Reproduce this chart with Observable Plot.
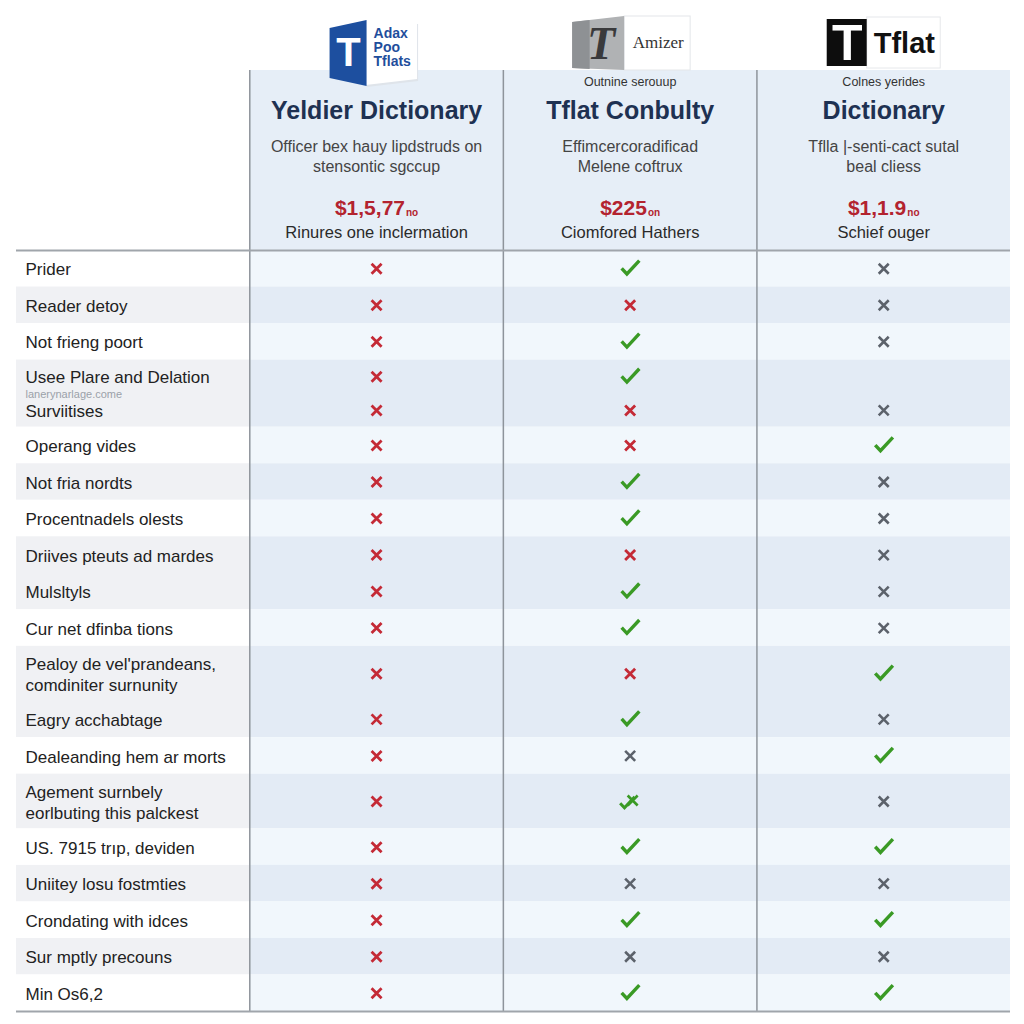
<!DOCTYPE html>
<html><head><meta charset="utf-8">
<script src="https://cdn.jsdelivr.net/npm/d3@7"></script>
<script src="https://cdn.jsdelivr.net/npm/@observablehq/plot@0.6"></script>
<style>html,body{margin:0;padding:0;background:#fff}#chart svg{display:block}</style>
</head><body><div id="chart"></div>
<script>
// ---------------- DATA ----------------
const products = ["Yeldier Dictionary", "Tflat Conbulty", "Dictionary"];
const productTags = ["", "Outnine serouup", "Colnes yerides"];
const productDescs = [
  "Officer bex hauy lipdstruds on\nstensontic sgccup",
  "Effimcercoradificad\nMelene coftrux",
  "Tflla |-senti-cact sutal\nbeal cliess"
];
const prices = ["$1,5,77", "$225", "$1,1.9"];
const priceUnits = ["no", "on", "no"];
const priceNotes = ["Rinures one inclermation", "Ciomfored Hathers", "Schief ouger"];
const logoWords = ["Adax\nPoo\nTflats", "Amizer", "Tflat"];
const watermark = "lanerynarlage.come";

const features = [
  "Prider", "Reader detoy", "Not frieng poort", "Usee Plare and Delation", "Surviitises",
  "Operang vides", "Not fria nordts", "Procentnadels olests", "Driives pteuts ad mardes", "Mulsltyls",
  "Cur net dfinba tions", "Pealoy de vel'prandeans,\ncomdiniter surnunity", "Eagry acchabtage",
  "Dealeanding hem ar morts", "Agement surnbely\neorlbuting this palckest", "US. 7915 trıp, deviden",
  "Uniitey losu fostmties", "Crondating with idces", "Sur mptly precouns", "Min Os6,2"
];
// rows sharing a band number share one shaded / plain stripe
const featureBands = [0,1,2,3,3,4,5,6,7,7,8,9,9,10,11,12,13,14,15,16];
// the two features that sit together in one cell of the reference
const pairedFeatures = ["Usee Plare and Delation", "Surviitises"];
// yes = green tick, no = red cross, na = grey cross, mixed = tick+cross, "" = empty
const yeldier = ["no","no","no","no","no","no","no","no","no","no","no","no","no","no","no","no","no","no","no","no"];
const tflatConbulty = ["yes","no","yes","yes","no","no","yes","yes","no","yes","yes","no","yes","na","mixed","yes","na","yes","na","yes"];
const dictionary = ["na","na","na","","na","yes","na","na","na","na","na","yes","na","yes","na","yes","na","yes","na","yes"];

// ---------------- LAYOUT ----------------
const W = 1024, H = 1024, mL = 16, mR = 14, mB = 13, BODY_TOP = 250;
const FONT = "Liberation Sans, Arial, Helvetica, sans-serif";
const leftW = 0.92;

const rows = features.map((label, i) => ({label, band: featureBands[i], lines: label.split("\n").length}));
let acc = 0;
rows.forEach(r => {
  r.h = pairedFeatures.includes(r.label) ? 0.92 : 1 + 0.5 * (r.lines - 1);
  r.y0 = acc; acc += r.h; r.y1 = acc; r.yc = (r.y0 + r.y1) / 2;
});
const total = acc;
const pxY = (H - mB - BODY_TOP) / total;
const pxX = (W - mL - mR) / (3 + leftW);
const yTop = -BODY_TOP / pxY;
const hx = (c, off) => c + 0.5 + off / pxX;
const hy = (p) => (p - BODY_TOP) / pxY;

const bands = d3.groups(rows, r => r.band).map(([b, rs]) => ({
  band: b, y1: d3.min(rs, r => r.y0), y2: d3.max(rs, r => r.y1), shaded: b % 2 === 1
}));

const statusCols = [yeldier, tflatConbulty, dictionary];
const cells = statusCols.flatMap((arr, c) => arr.map((s, i) => ({x: c + 0.5, y: rows[i].yc, s})));

const checkSymbol = {draw(ctx, size) { const r = Math.sqrt(size / Math.PI);
  ctx.moveTo(-r, -0.05 * r); ctx.lineTo(-0.38 * r, 0.62 * r); ctx.lineTo(1.08 * r, -0.95 * r); }};
const crossSymbol = {draw(ctx, size) { const r = Math.sqrt(size / Math.PI);
  ctx.moveTo(-r, -r); ctx.lineTo(r, r); ctx.moveTo(-r, r); ctx.lineTo(r, -r); }};

// price + small suffix measured so the pair is centred
const mctx = document.createElement("canvas").getContext("2d");
const priceParts = products.map((p, i) => {
  mctx.font = "bold 21px " + FONT; const w1 = mctx.measureText(prices[i]).width;
  mctx.font = "bold 10px " + FONT; const w2 = mctx.measureText(priceUnits[i]).width;
  const tot = w1 + 1 + w2;
  return {i, x1: hx(i, -tot / 2), x2: hx(i, -tot / 2 + w1 + 1)};
});

const header = products.map((p, i) => ({i, x: i + 0.5, title: p, tag: productTags[i], desc: productDescs[i], note: priceNotes[i]}));

const trap = (c, a, b) => [
  {x: hx(c, a[0]), y1: hy(a[1]), y2: hy(a[2])},
  {x: hx(c, b[0]), y1: hy(b[1]), y2: hy(b[2])}
];
const pairEnd = rows[features.indexOf(pairedFeatures[0])].y1;

const chart = Plot.plot({
  width: W, height: H,
  marginLeft: mL, marginRight: mR, marginTop: 0, marginBottom: mB,
  x: {domain: [-leftW, 3], axis: null},
  y: {domain: [yTop, total], reverse: true, axis: null},
  style: {fontFamily: FONT, background: "#ffffff", overflow: "visible"},
  marks: [
    // header panel
    Plot.rect([0], {x1: 0, x2: 3, y1: hy(70), y2: 0, fill: "#e6eef7"}),
    // body stripes
    Plot.rect(bands, {x1: -leftW, x2: 0, y1: "y1", y2: "y2", fill: d => d.shaded ? "#f0f1f4" : "#ffffff"}),
    Plot.rect(bands, {x1: 0, x2: 3, y1: "y1", y2: "y2", fill: d => d.shaded ? "#e3ebf5" : "#f1f7fc"}),
    // grid lines
    Plot.ruleX([0, 1, 2], {y1: hy(70), y2: total, stroke: "#8e949b", strokeWidth: 1.5}),
    Plot.ruleY([0, total], {x1: -leftW, x2: 3, stroke: "#a0a5ab", strokeWidth: 2}),

    // ----- logos -----
    // product 1
    Plot.areaY(trap(0, [-9.5, 21, 87], [42, 24, 81]), {x: "x", y1: "y1", y2: "y2", fill: "#dfe4ea"}),
    Plot.areaY(trap(0, [-10.5, 19, 85], [41, 23, 79]), {x: "x", y1: "y1", y2: "y2", fill: "#ffffff"}),
    Plot.areaY(trap(0, [-46.5, 28, 78], [-9.5, 20, 86]), {x: "x", y1: "y1", y2: "y2", fill: "#1d4f9f"}),
    Plot.text(["T"], {x: hx(0, -28), y: hy(53), text: d => d, fill: "#ffffff", fontSize: 40, fontWeight: "bold"}),
    Plot.text([logoWords[0]], {x: hx(0, -3), y: hy(47), text: d => d, textAnchor: "start", fill: "#1f4e9c", fontSize: 14, fontWeight: 600, lineHeight: 1.0}),
    // product 2
    Plot.rect([0], {x1: hx(1, -5.5), x2: hx(1, 60.5), y1: hy(16), y2: hy(70), fill: "#ffffff", stroke: "#e4e6e9"}),
    Plot.areaY(trap(1, [-57.5, 22, 68], [-5.5, 16, 70]), {x: "x", y1: "y1", y2: "y2", fill: "#b0b2b4"}),
    Plot.areaY(trap(1, [-57.5, 22, 68], [-40, 20, 69]), {x: "x", y1: "y1", y2: "y2", fill: "#8e9194"}),
    Plot.text(["T"], {x: hx(1, -29), y: hy(44), text: d => d, fill: "#3a3a3c", fontSize: 46, fontWeight: "bold", fontStyle: "italic", fontFamily: "Liberation Serif, serif"}),
    Plot.text([logoWords[1]], {x: hx(1, 28), y: hy(42), text: d => d, fill: "#333333", fontSize: 17, fontFamily: "Liberation Serif, serif"}),
    // product 3
    Plot.rect([0], {x1: hx(2, -16.5), x2: hx(2, 57), y1: hy(17), y2: hy(68), fill: "#ffffff", stroke: "#e6e8eb"}),
    Plot.rect([0], {x1: hx(2, -56.5), x2: hx(2, -16.5), y1: hy(19), y2: hy(66), fill: "#0d0d0d"}),
    Plot.text(["T"], {x: hx(2, -36.5), y: hy(43), text: d => d, fill: "#ffffff", fontSize: 50, fontWeight: "bold"}),
    Plot.text([logoWords[2]], {x: hx(2, -10), y: hy(43), text: d => d, textAnchor: "start", fill: "#111111", fontSize: 29, fontWeight: "bold"}),

    // ----- header texts -----
    Plot.text(header, {x: "x", y: hy(81), text: "tag", fontSize: 12.5, fill: "#333"}),
    Plot.text(header, {x: "x", y: hy(110), text: "title", fontSize: 25, fontWeight: "bold", fill: "#1e3152"}),
    Plot.text(header, {x: "x", y: hy(155), text: "desc", fontSize: 16, fill: "#444", lineHeight: 1.25}),
    Plot.text(priceParts, {x: "x1", y: hy(208), text: d => prices[d.i], textAnchor: "start", fontSize: 21, fontWeight: "bold", fill: "#b3232f"}),
    Plot.text(priceParts, {x: "x2", y: hy(212), text: d => priceUnits[d.i], textAnchor: "start", fontSize: 10, fontWeight: "bold", fill: "#b3232f"}),
    Plot.text(header, {x: "x", y: hy(232), text: "note", fontSize: 16.5, fill: "#2a2a2a"}),

    // ----- feature labels -----
    Plot.text(rows, {x: -leftW, y: "yc", text: "label", textAnchor: "start", dx: 9, fontSize: 17, fill: "#222", lineHeight: 1.22}),
    Plot.text([watermark], {x: -leftW, y: pairEnd, text: d => d, textAnchor: "start", dx: 9, dy: 1, fontSize: 11, fill: "#9ba1a9"}),

    // ----- status marks -----
    Plot.dot(cells.filter(d => d.s === "no"), {x: "x", y: "y", symbol: crossSymbol, r: 5, fill: "none", stroke: "#c42a36", strokeWidth: 2.8}),
    Plot.dot(cells.filter(d => d.s === "na"), {x: "x", y: "y", symbol: crossSymbol, r: 5, fill: "none", stroke: "#5c626b", strokeWidth: 2.6}),
    Plot.dot(cells.filter(d => d.s === "yes"), {x: "x", y: "y", symbol: checkSymbol, r: 8.5, fill: "none", stroke: "#3a9a25", strokeWidth: 3.4}),
    Plot.dot(cells.filter(d => d.s === "mixed"), {x: "x", y: "y", dx: -3, dy: 2, symbol: checkSymbol, r: 7, fill: "none", stroke: "#3a9a25", strokeWidth: 3}),
    Plot.dot(cells.filter(d => d.s === "mixed"), {x: "x", y: "y", dx: 2.5, dy: -1, symbol: crossSymbol, r: 5, fill: "none", stroke: "#3a9a25", strokeWidth: 2.6})
  ]
});
document.getElementById("chart").appendChild(chart);
</script>
</body></html>
